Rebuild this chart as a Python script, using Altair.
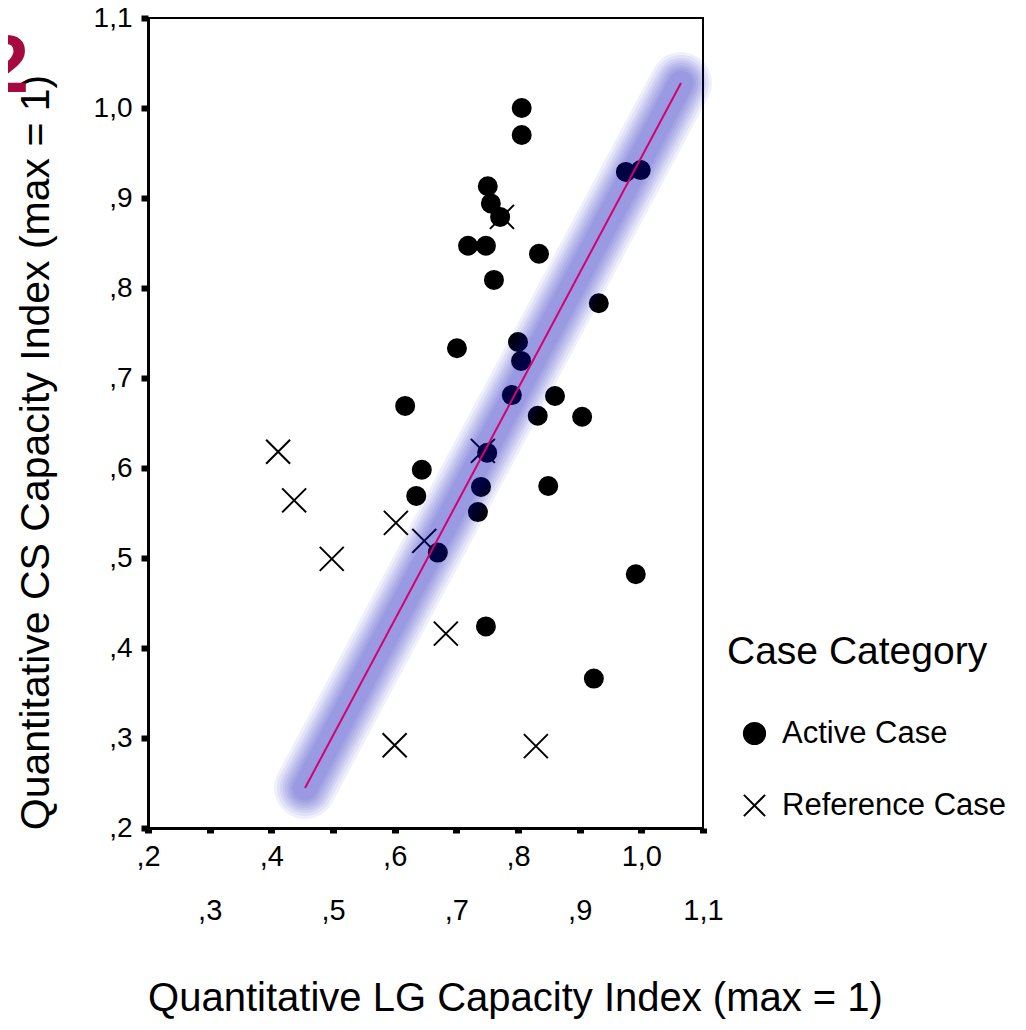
import altair as alt
import pandas as pd

# ---- data ----
act_x = [0.806, 0.806, 0.975, 0.999, 0.751, 0.756, 0.771, 0.719, 0.748, 0.761,
         0.834, 0.931, 0.701, 0.800, 0.805, 0.790, 0.860, 0.832, 0.904, 0.617,
         0.750, 0.644, 0.635, 0.740, 0.849, 0.735, 0.670, 0.991, 0.748, 0.923]
act_y = [1.000, 0.970, 0.929, 0.931, 0.913, 0.894, 0.879, 0.847, 0.847, 0.809,
         0.838, 0.783, 0.733, 0.740, 0.719, 0.681, 0.680, 0.658, 0.657, 0.669,
         0.617, 0.598, 0.569, 0.579, 0.580, 0.551, 0.506, 0.482, 0.424, 0.366]
ref_x = [0.411, 0.437, 0.498, 0.602, 0.648, 0.743, 0.774, 0.683, 0.600, 0.829]
ref_y = [0.618, 0.564, 0.499, 0.539, 0.519, 0.619, 0.879, 0.416, 0.292, 0.291]
fit_x = [0.4546, 1.0643]
fit_y = [0.2444, 1.0278]
categories = ["Active Case", "Reference Case"]
tick_values = [0.2, 0.3, 0.4, 0.5, 0.6, 0.7, 0.8, 0.9, 1.0, 1.1]

act = pd.DataFrame({"x": act_x, "y": act_y, "cat": [categories[0]] * len(act_x)})
ref = pd.DataFrame({"x": ref_x, "y": ref_y, "cat": [categories[1]] * len(ref_x)})
fit = pd.DataFrame({"x": fit_x, "y": fit_y})

XPATH = "M-1,-1L1,1M-1,1L1,-1"
FONT = "Liberation Sans"
lbl = "datum.value < 0.995 ? ',' + round(datum.value*10) : '1,' + round((datum.value-1)*10)"

sx = alt.Scale(domain=[0.2, 1.1], nice=False, zero=False)
sy = alt.Scale(domain=[0.2, 1.1], nice=False, zero=False)

x_axis = alt.Axis(
    values=tick_values, labelExpr=lbl, grid=False,
    title="Quantitative LG Capacity Index (max = 1)",
    domainColor="black", domainWidth=3,
    tickColor="black", tickSize=5, tickWidth=7,
    labelFontSize=29, labelColor="black", labelFont=FONT,
    labelPadding={"condition": {"test": "round(datum.value*10) % 2 == 1", "value": 63}, "value": 9},
    labelFlush=False, labelOverlap=False,
    titleFontSize=40, titleFontWeight="normal", titleColor="black", titleFont=FONT,
    titleX=367, titleY=182, titleAlign="center", titleBaseline="alphabetic",
)
y_axis = alt.Axis(
    values=tick_values, labelExpr=lbl, grid=False,
    title="Quantitative CS Capacity Index (max = 1)",
    domainColor="black", domainWidth=3,
    tickColor="black", tickSize=7, tickWidth=6,
    labelFontSize=28, labelColor="black", labelFont=FONT, labelPadding=9,
    labelFlush=False, labelOverlap=False,
    titleFontSize=41, titleFontWeight="normal", titleColor="black", titleFont=FONT,
    titleAngle=-90, titleX=-100, titleY=434, titleAlign="center", titleBaseline="alphabetic",
)

shape_enc = alt.Shape(
    "cat:N",
    scale=alt.Scale(domain=categories, range=["circle", XPATH]),
    legend=alt.Legend(
        title="Case Category", orient="none", legendX=579, legendY=615,
        titleFontSize=39, titleFontWeight="normal", titleColor="black", titleLimit=500,
        labelFontSize=31, labelColor="black", labelLimit=500,
        symbolSize=450, symbolStrokeWidth=2, symbolOffset=12,
        titlePadding=46, rowPadding=40, labelOffset=12,
    ),
)

dots = alt.Chart(act).mark_point(
    filled=True, fill="black", stroke="black", strokeWidth=2, opacity=1, size=324
).encode(
    x=alt.X("x:Q", scale=sx, axis=x_axis),
    y=alt.Y("y:Q", scale=sy, axis=y_axis),
    shape=shape_enc,
)
crosses = alt.Chart(ref).mark_point(
    filled=True, fill="black", stroke="black", strokeWidth=2, opacity=1, size=576
).encode(
    x=alt.X("x:Q", scale=sx),
    y=alt.Y("y:Q", scale=sy),
    shape=shape_enc,
)

band_layers = []
for w in [62, 56, 50, 45, 40, 35, 30, 25]:
    band_layers.append(
        alt.Chart(fit).mark_line(color="#0000b4", strokeWidth=w, opacity=0.058, strokeCap="round")
        .encode(x=alt.X("x:Q", scale=sx), y=alt.Y("y:Q", scale=sy))
    )

fit_line = alt.Chart(fit).mark_line(color="#d6006e", strokeWidth=2).encode(
    x=alt.X("x:Q", scale=sx), y=alt.Y("y:Q", scale=sy)
)

fig_no = alt.Chart(pd.DataFrame({"t": ["2"]})).mark_text(
    font=FONT, fontSize=82, fontWeight="bold", color="#a5093f", align="right", baseline="alphabetic"
).encode(text="t:N", x=alt.value(-119), y=alt.value(74))

chart = alt.layer(dots, crosses, *band_layers, fit_line, fig_no).properties(
    width=555, height=810,
    autosize=alt.AutoSizeParams(type="none"),
    padding={"left": 140, "top": 10, "right": 315, "bottom": 194},
).configure(font=FONT).configure_view(stroke="black", strokeWidth=2)

chart.save("out.html", embed_options={"renderer": "svg", "actions": False})
